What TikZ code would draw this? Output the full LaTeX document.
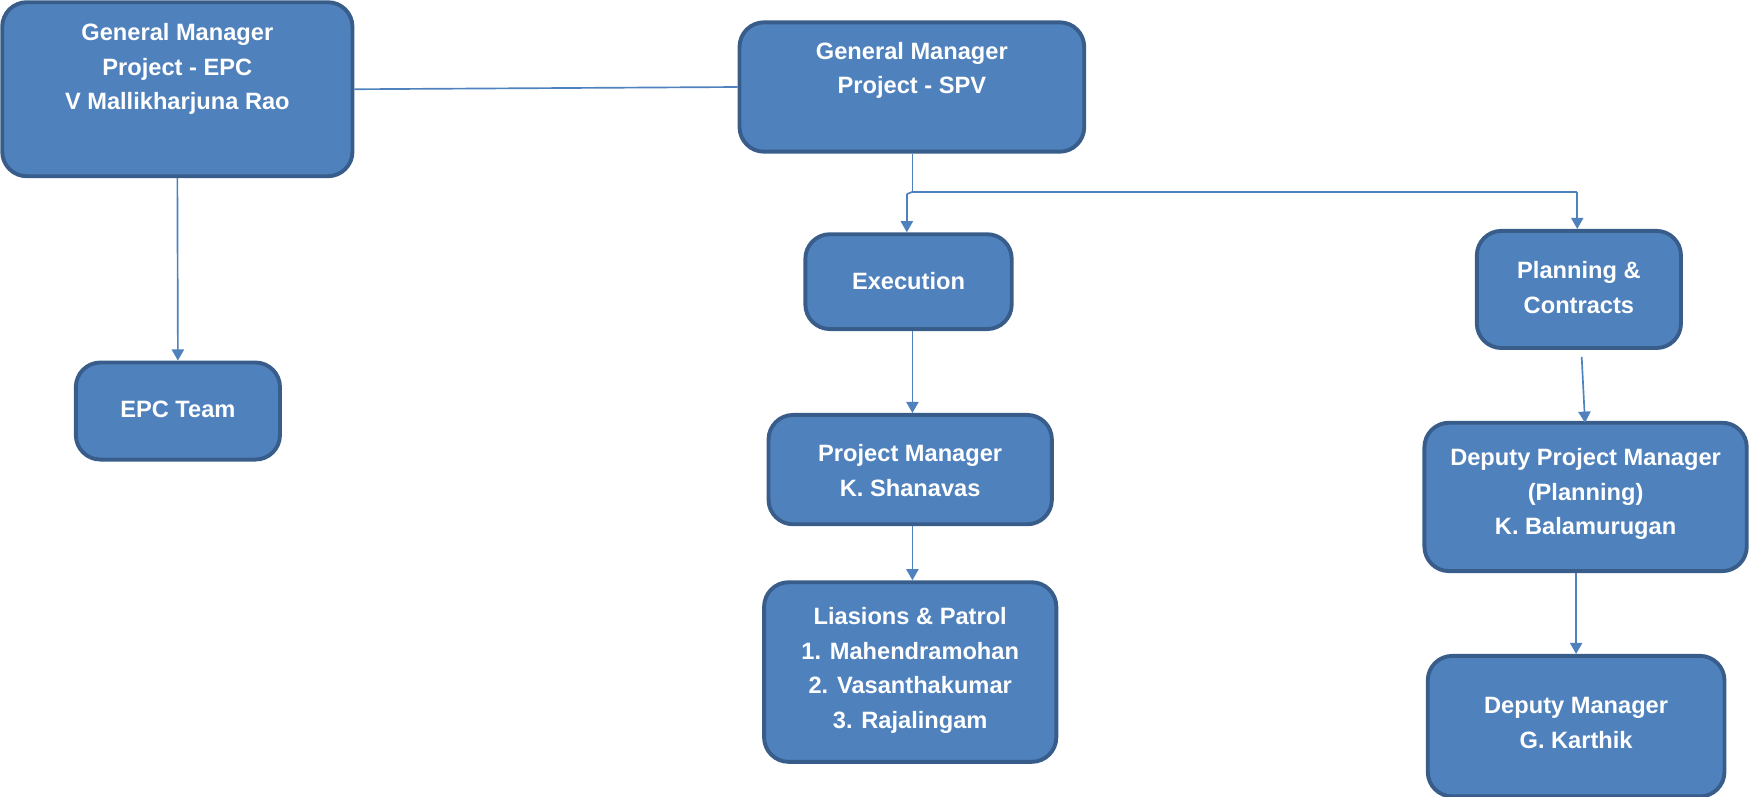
\documentclass[tikz,border=0pt]{standalone}
\usepackage{fontspec}
\setmainfont{Liberation Sans}
\usetikzlibrary{arrows.meta,calc}
\definecolor{boxfill}{HTML}{4F81BD}
\definecolor{boxline}{HTML}{385D8A}
\definecolor{conn}{HTML}{4F81BD}
\tikzset{
  orgbox/.style={draw=boxline, fill=boxfill, line width=3.5pt, rounded corners=22pt, inner sep=0pt},
  orgtxt/.style={text=white, font=\bfseries\fontsize{21.2}{31}\selectfont, align=center, inner sep=0pt},
  conline/.style={draw=conn, line width=1.5pt},
  conarrow/.style={conline, -{Triangle[width=11pt,length=10pt]}}
}
\begin{document}
\begin{tikzpicture}[x=1pt,y=-1pt]
\useasboundingbox (0,0) rectangle (1568,714.5);
% boxes
\node[orgbox, minimum width=314pt, minimum height=156pt] (epc) at (159,80) {};
\node[orgtxt] (epct) at (159,62) {General Manager\\Project - EPC\\V Mallikharjuna Rao};
\node[orgbox, minimum width=309pt, minimum height=116pt] (spv) at (817.5,78) {};
\node[orgtxt] (spvt) at (817.5,63) {General Manager\\Project - SPV};
\node[orgbox, minimum width=185pt, minimum height=85pt] (exe) at (814.5,252.5) {};
\node[orgtxt] (exet) at (814.5,252) {Execution};
\node[orgbox, minimum width=183pt, minimum height=105pt] (plan) at (1415.5,259.5) {};
\node[orgtxt] (plant) at (1415.5,258) {Planning \&\\Contracts};
\node[orgbox, minimum width=183pt, minimum height=87pt] (team) at (159.5,368.5) {};
\node[orgtxt] (teamt) at (159.5,367) {EPC Team};
\node[orgbox, minimum width=254pt, minimum height=98pt] (pm) at (816,421) {};
\node[orgtxt] (pmt) at (816,422) {Project Manager\\K. Shanavas};
\node[orgbox, minimum width=262pt, minimum height=161pt] (lia) at (816,602.5) {};
\node[orgtxt] (liat) at (816,601) {Liasions \& Patrol\\1. Mahendramohan\\2. Vasanthakumar\\3. Rajalingam};
\node[orgbox, minimum width=289pt, minimum height=133pt] (dpm) at (1421.5,445.5) {};
\node[orgtxt] (dpmt) at (1421.5,443) {Deputy Project Manager\\(Planning)\\K. Balamurugan};
\node[orgbox, minimum width=266pt, minimum height=126pt] (dm) at (1413,651) {};
\node[orgtxt] (dmt) at (1413,648) {Deputy Manager\\G. Karthik};
% connector helpers
\coordinate (split) at (818,172);
\coordinate (splitl) at (813,174);
\coordinate (splitr) at (1414,172);
\coordinate (planout) at (1418,320);
% connectors
\draw[conline] (epc.east) -- (spv.west);
\draw[conarrow] (epc.south) -- (team.north);
\draw[conline] (spv.south -| split) -- (split) -- (splitr);
\draw[conarrow] (splitr) -- (splitr |- plan.north);
\draw[conline] (split) -- (splitl);
\draw[conarrow] (splitl) -- (exe.north -| splitl);
\draw[conarrow] (exe.south -| 818,0) -- (pm.north -| 818,0);
\draw[conarrow] (pm.south -| 818,0) -- (lia.north -| 818,0);
\draw[conarrow] (planout) -- (1421,379);
\draw[conarrow] (dpm.south -| 1413,0) -- (dm.north -| 1413,0);
\end{tikzpicture}
\end{document}
